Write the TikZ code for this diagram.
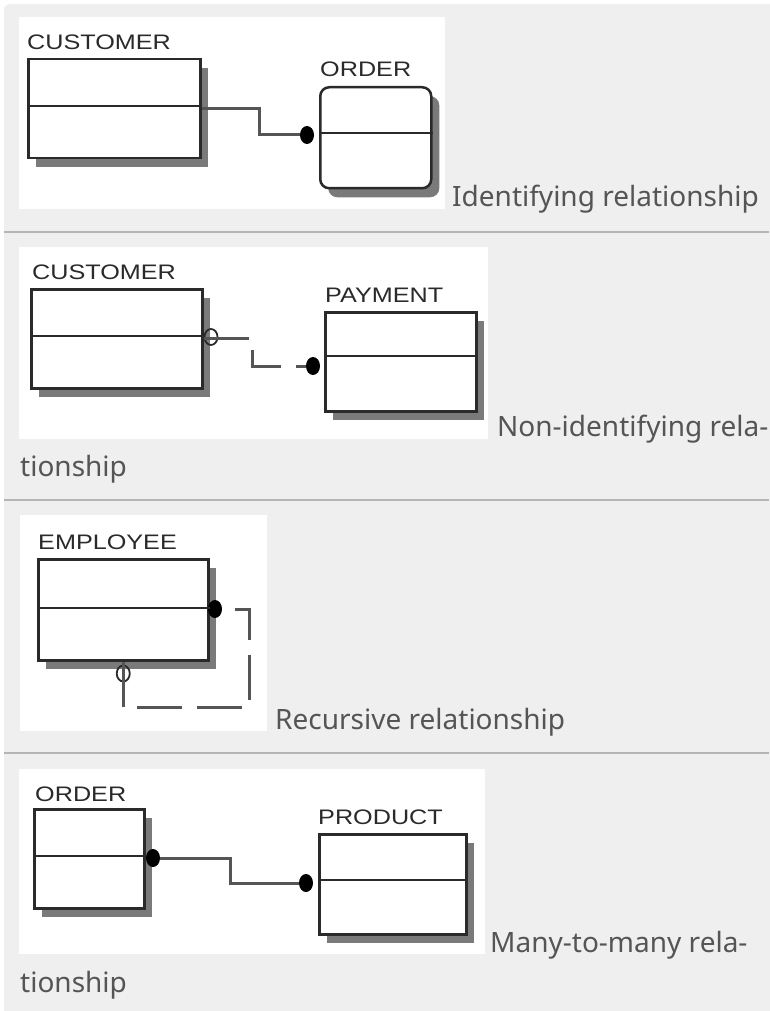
\documentclass[tikz,border=0pt]{standalone}
\usepackage{fontspec}
\setmainfont{Noto Sans}
\newfontfamily\tagfont{Liberation Sans}
\usetikzlibrary{calc,shapes.geometric,shadows}

\definecolor{pagebg}{HTML}{EFEFEF}
\definecolor{rulecol}{HTML}{B5B5B5}
\definecolor{capcol}{HTML}{555555}
\definecolor{inkcol}{HTML}{2A2A2A}
\definecolor{linkcol}{HTML}{555555}
\definecolor{shadecol}{HTML}{7A7A7A}

\newcommand{\tabname}[1]{\scalebox{1.2}[1]{#1}}

\tikzset{
  entity/.style={draw=inkcol, line width=2.5pt, fill=white, anchor=north west, inner sep=0pt,
    drop shadow={shadow xshift=8pt, shadow yshift=-9pt, fill=shadecol, opacity=1}},
  midline/.style={draw=inkcol, line width=2.5pt},
  link/.style={draw=linkcol, line width=3pt},
  dashlink/.style={link, dash pattern=on 45pt off 15pt},
  dotmark/.style={ellipse, fill=black, inner sep=0pt, minimum width=14pt, minimum height=18pt},
  ringmark/.style={ellipse, draw=inkcol, line width=1.8pt, inner sep=0pt, minimum width=13pt, minimum height=16pt},
  tag/.style={anchor=base west, inner sep=0pt, text=inkcol, font=\tagfont\fontsize{21}{21}\selectfont},
  caption/.style={anchor=base west, inner sep=0pt, text=capcol, font=\fontsize{28}{42}\selectfont}
}

\begin{document}
\begin{tikzpicture}[x=1pt,y=-1pt]
  \useasboundingbox (0,0) rectangle (769,1011);
  \fill[pagebg, rounded corners=6pt] (4,4) rectangle (800,1040);
  \foreach \yy in {232,500,753}
    \draw[rulecol, line width=2pt] (4,\yy) -- (769,\yy);
  \fill[white] (19,17) rectangle (445,209);
  \fill[white] (19,247) rectangle (488,439);
  \fill[white] (20,515) rectangle (267,731);
  \fill[white] (19,769) rectangle (485,954);

  \node[tag] (t1) at (27,50) {\tabname{CUSTOMER}};
  \node[entity, minimum width=172pt, minimum height=99pt] (cust1) at (27,58) {};
  \node[tag] (t2) at (320,77) {\tabname{ORDER}};
  \node[entity, rounded corners=9pt, minimum width=111pt, minimum height=101pt] (ord1) at (319,86) {};
  \node[dotmark] (d1) at (307,135) {};
  \draw[link] (cust1.east) -- ++(58,0) |- (d1);
  \node[caption] (c1) at (452,206) {Identifying relationship};

  \node[tag] (t3) at (32,279) {\tabname{CUSTOMER}};
  \node[entity, minimum width=171pt, minimum height=99pt] (cust2) at (30,288) {};
  \node[tag] (t4) at (325,302) {\tabname{PAYMENT}};
  \node[entity, minimum width=151pt, minimum height=99pt] (pay) at (324,311) {};
  \node[dotmark] (d2) at (313,366) {};
  \node[ringmark] (r2) at (211,337) {};
  \draw[dashlink] (cust2.east) -- ++(49,0) |- (d2);
  \node[caption] (c2) at (497,436) {Non-identifying rela-};
  \node[caption] (c2b) at (20,476) {tionship};

  \node[tag] (t5) at (38,549) {\tabname{EMPLOYEE}};
  \node[entity, minimum width=170pt, minimum height=101pt] (emp) at (37,558) {};
  \node[dotmark] (d3) at (215,609) {};
  \node[ringmark] (r3) at ($(emp.south)+(0,12)$) {};
  \draw[dashlink] (emp.south) |- ++(126,46) |- (d3);
  \node[caption] (c3) at (275,729) {Recursive relationship};

  \node[tag] (t6) at (35,801) {\tabname{ORDER}};
  \node[entity, minimum width=110pt, minimum height=99pt] (ord4) at (33,808) {};
  \node[tag] (t7) at (318,824) {\tabname{PRODUCT}};
  \node[entity, minimum width=147pt, minimum height=100pt] (prod) at (318,833) {};
  \node[dotmark] (d41) at (153,858) {};
  \node[dotmark] (d42) at (306,883) {};
  \draw[link] (d41) -- ++(77,0) |- (d42);
  \node[caption] (c4) at (490,952) {Many-to-many rela-};
  \node[caption] (c4b) at (20,992) {tionship};

  \foreach \n/\d in {cust1/48,ord1/47,cust2/48,pay/45,emp/50,ord4/48,prod/47}
    \draw[midline] ($(\n.north west)+(0,\d)$) -- ($(\n.north east)+(0,\d)$);
\end{tikzpicture}
\end{document}
